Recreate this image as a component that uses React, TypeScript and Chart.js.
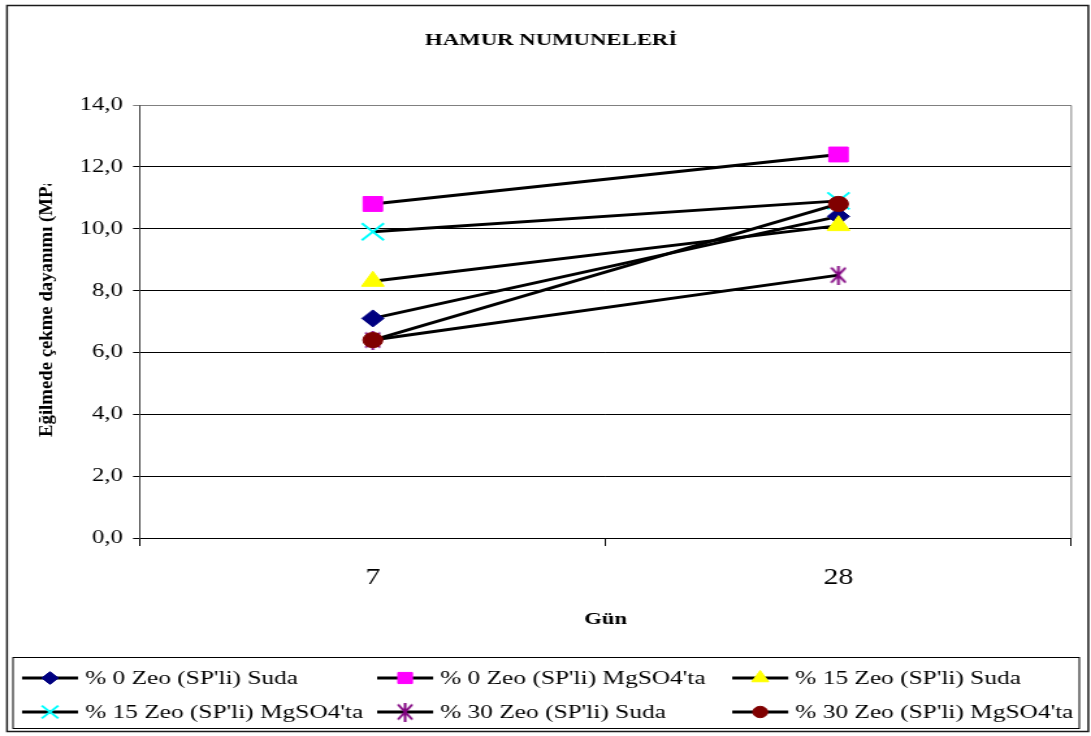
import React, { useEffect, useRef } from 'react';
import { Chart, registerables, PointElement } from 'chart.js';

Chart.register(...registerables);

// Test days (x categories)
const days = ['7', '28'];

// Flexural strength (MPa) per mix and curing medium
const zeo0Water = [7.1, 10.4];
const zeo0MgSO4 = [10.8, 12.4];
const zeo15Water = [8.3, 10.1];
const zeo15MgSO4 = [9.9, 10.9];
const zeo30Water = [6.4, 8.5];
const zeo30MgSO4 = [6.4, 10.8];

const seriesLabels = [
  "% 0 Zeo (SP'li) Suda",
  "% 0 Zeo (SP'li) MgSO4'ta",
  "% 15 Zeo (SP'li) Suda",
  "% 15 Zeo (SP'li) MgSO4'ta",
  "% 30 Zeo (SP'li) Suda",
  "% 30 Zeo (SP'li) MgSO4'ta",
];

const yTicks = [0, 2, 4, 6, 8, 10, 12, 14];

const chartTitle = 'HAMUR NUMUNELERİ';
const xTitle = 'Gün';
const yTitle = 'Eğilmede çekme dayanımı (MPa)';

const FONT = "'Liberation Serif', 'Times New Roman', serif";

// The canvas is drawn narrower and widened by CSS, giving the wide glyphs and markers
const STRETCH = 1.3;
const PAGE_W = 1091;
const PAGE_H = 736;
const CW = Math.round(PAGE_W / STRETCH);
const sx = (x: number) => x / STRETCH;

const PLOT_LEFT = 140;
const PLOT_RIGHT = 1071;
const PLOT_TOP = 105;
const PLOT_BOTTOM = 538;

// Six-armed asterisk marker (X plus a vertical stroke)
const makeAsterisk = (color: string, w: number, h: number) => {
  const c = document.createElement('canvas');
  c.width = w;
  c.height = h;
  const g = c.getContext('2d')!;
  g.strokeStyle = color;
  g.lineWidth = 2;
  g.beginPath();
  g.moveTo(1, 2);
  g.lineTo(w - 1, h - 2);
  g.moveTo(w - 1, 2);
  g.lineTo(1, h - 2);
  g.moveTo(w / 2, 0);
  g.lineTo(w / 2, h);
  g.stroke();
  return c;
};

const seriesValues = [zeo0Water, zeo0MgSO4, zeo15Water, zeo15MgSO4, zeo30Water, zeo30MgSO4];

const drawMarker = (ctx: CanvasRenderingContext2D, x: number, y: number, opts: any) => {
  const pt: any = new PointElement({} as any);
  pt.x = x;
  pt.y = y;
  pt.options = { ...opts, rotation: 0 };
  pt.draw(ctx, { left: 0, top: 0, right: 10000, bottom: 10000 });
};

const decorPlugin = {
  id: 'decor',
  beforeDatasetsDraw(chart: any) {
    const { ctx, chartArea } = chart;
    ctx.save();
    ctx.strokeStyle = '#808080';
    ctx.lineWidth = 1;
    ctx.beginPath();
    ctx.moveTo(chartArea.left, chartArea.top + 0.5);
    ctx.lineTo(chartArea.right, chartArea.top + 0.5);
    ctx.lineTo(chartArea.right, chartArea.bottom);
    ctx.stroke();
    ctx.restore();
  },
  afterDraw(chart: any) {
    const { ctx } = chart;
    ctx.save();

    // outer frame
    ctx.strokeStyle = '#1a1a1a';
    ctx.lineWidth = 1.5;
    ctx.strokeRect(sx(7), 5.5, sx(1088) - sx(7), 726);

    // chart title
    ctx.fillStyle = '#000';
    ctx.font = `bold 17.5px ${FONT}`;
    ctx.textAlign = 'center';
    ctx.textBaseline = 'middle';
    ctx.fillText(chartTitle, sx(551), 40);

    // y axis title, cut off at its top like the original layout
    ctx.save();
    ctx.beginPath();
    ctx.rect(0, 184, sx(120), 400);
    ctx.clip();
    ctx.translate(sx(47), 437);
    ctx.rotate(-Math.PI / 2);
    ctx.scale(1.25, 1);
    ctx.font = `bold 15px ${FONT}`;
    ctx.textAlign = 'left';
    ctx.textBaseline = 'middle';
    ctx.fillText(yTitle, 0, 0);
    ctx.restore();

    // legend box
    ctx.strokeStyle = '#000';
    ctx.lineWidth = 1;
    ctx.strokeRect(sx(13), 657.5, sx(1079) - sx(13), 71);

    chart.data.datasets.forEach((ds: any, i: number) => {
      const col = i % 3;
      const row = Math.floor(i / 3);
      const x0 = sx(22 + 355 * col);
      const y = 678 + 34 * row;
      ctx.strokeStyle = '#000';
      ctx.lineWidth = 3;
      ctx.beginPath();
      ctx.moveTo(x0, y);
      ctx.lineTo(x0 + sx(56), y);
      ctx.stroke();
      drawMarker(ctx, x0 + sx(28), y, {
        pointStyle: ds.pointStyle,
        radius: ds.pointRadius * 0.75,
        borderWidth: ds.pointBorderWidth,
        backgroundColor: ds.pointBackgroundColor,
        borderColor: ds.pointBorderColor,
      });
      ctx.fillStyle = '#000';
      ctx.font = `19.5px ${FONT}`;
      ctx.textAlign = 'left';
      ctx.textBaseline = 'middle';
      ctx.fillText(ds.label, x0 + sx(63), y + 1);
    });

    ctx.restore();
  },
};

export default function App() {
  const canvasRef = useRef<HTMLCanvasElement | null>(null);

  useEffect(() => {
    const canvas = canvasRef.current;
    if (!canvas) return;

    const markerStyles: any[] = [
      { style: 'rectRot', color: '#000080', radius: 8.5, width: 1 },
      { style: 'rect', color: '#FF00FF', radius: 10.5, width: 1 },
      { style: 'triangle', color: '#FFFF00', radius: 10, width: 1 },
      { style: 'crossRot', color: '#00FFFF', radius: 12, width: 2 },
      { style: makeAsterisk('#800080', 13, 19), color: '#800080', radius: 10, width: 2 },
      { style: 'circle', color: '#800000', radius: 7.6, width: 1 },
    ];

    const datasets = seriesValues.map((values, i) => ({
      label: seriesLabels[i],
      data: values,
      borderColor: '#000',
      borderWidth: 3,
      pointStyle: markerStyles[i].style,
      pointRadius: markerStyles[i].radius,
      pointBackgroundColor: markerStyles[i].color,
      pointBorderColor: markerStyles[i].color,
      pointBorderWidth: markerStyles[i].width,
      tension: 0,
      fill: false,
      order: seriesValues.length - i,
    }));

    const chart = new Chart(canvas, {
      type: 'line',
      data: { labels: days, datasets },
      plugins: [decorPlugin],
      options: {
        responsive: false,
        animation: false,
        devicePixelRatio: 1,
        layout: {
          padding: { left: 0, top: PLOT_TOP, right: CW - sx(PLOT_RIGHT), bottom: 0 },
        },
        plugins: {
          legend: { display: false },
          title: { display: false },
          tooltip: { enabled: false },
        },
        scales: {
          x: {
            type: 'category',
            offset: true,
            afterFit: (scale: any) => {
              scale.height = PAGE_H - PLOT_BOTTOM;
            },
            grid: {
              display: true,
              drawOnChartArea: false,
              offset: true,
              tickLength: 8,
              color: '#000',
            },
            border: { color: '#000', width: 1 },
            ticks: {
              color: '#000',
              padding: 18,
              font: { family: FONT, size: 23 },
            },
            title: {
              display: true,
              text: xTitle,
              color: '#000',
              font: { family: FONT, size: 17.5, weight: 'bold' },
              padding: { top: 0, bottom: 106 },
            },
          },
          y: {
            min: 0,
            max: 14,
            afterFit: (scale: any) => {
              scale.width = sx(PLOT_LEFT);
            },
            afterBuildTicks: (scale: any) => {
              scale.ticks = yTicks.map((v) => ({ value: v }));
            },
            grid: {
              color: (c: any) => (c.tick && c.tick.value === 14 ? '#808080' : '#000'),
              lineWidth: 1,
              tickLength: sx(7),
            },
            border: { color: '#404040', width: 1 },
            ticks: {
              color: '#000',
              padding: sx(10),
              font: { family: FONT, size: 19 },
              callback: (v: any) => Number(v).toFixed(1).replace('.', ','),
            },
          },
        },
      },
    });

    return () => chart.destroy();
  }, []);

  return (
    <div style={{ position: 'fixed', left: 0, top: 0, width: PAGE_W, height: PAGE_H, background: '#fff' }}>
      <canvas
        ref={canvasRef}
        width={CW}
        height={PAGE_H}
        style={{ width: `${PAGE_W}px`, height: `${PAGE_H}px`, display: 'block' }}
      />
    </div>
  );
}
